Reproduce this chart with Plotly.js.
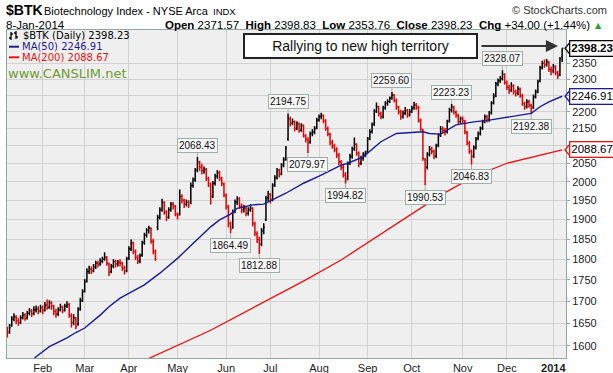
<!DOCTYPE html>
<html><head><meta charset="utf-8">
<script src="https://cdn.plot.ly/plotly-3.0.1.min.js"></script>
<style>html,body{margin:0;padding:0;background:#fff;}#chart{width:613px;height:373px;}</style>
</head><body><div id="chart"></div>
<script>
// ---------- calendar ----------
const calStart = '2013-01-02';
const calEnd = '2014-01-08';
const holidays = ['2013-01-21','2013-02-18','2013-03-29','2013-05-27','2013-07-04','2013-09-02','2013-11-28','2013-12-25','2014-01-01'];
const firstBarDate = '2013-01-09';
const monthStarts = ['2013-02','2013-03','2013-04','2013-05','2013-06','2013-07','2013-08','2013-09','2013-10','2013-11','2013-12','2014-01'];
const monthLabels = ['Feb','Mar','Apr','May','Jun','Jul','Aug','Sep','Oct','Nov','Dec','<b>2014</b>'];
const yTicks = [1600,1650,1700,1750,1800,1850,1900,1950,2000,2050,2100,2150,2200,2250,2300,2350];
const yTickText = ['1600','1650','1700','1750','1800','1850','1900','1950','2000','2050','','2150','2200','','2300','2350'];

// ---------- daily OHLC ($BTK), 9-Jan-2013 .. 8-Jan-2014 ----------
const open = [
1636,1630,1645,1660,1664,1656,1652,1662,1668,1662,
1672,1678,1672,1680,1682,1678,1684,1680,1692,1686,
1696,1688,1676,1670,1680,1686,1680,1688,1692,1666,
1652,1660,1648,1682,1702,1724,1748,1770,1776,1772,
1782,1790,1788,1795,1800,1804,1788,1770,1784,1794,
1788,1792,1790,1778,1772,1802,1826,1840,1818,1804,
1796,1810,1842,1860,1872,1876,1844,1818,1880,1906,
1926,1944,1918,1906,1926,1940,1934,1912,1914,1960,
1950,1940,1946,1945,1990,2006,2032,2052,2040,2030,
2034,2008,1990,1962,1996,2016,2024,2008,1994,1962,
1932,1888,1880,1922,1946,1954,1934,1924,1930,1916,
1926,1928,1888,1862,1848,1838,1872,1900,1956,1966,
1952,1992,2012,2032,2022,2046,2064,2120,2178,2166,
2170,2152,2164,2146,2158,2128,2118,2112,2136,2140,
2152,2176,2186,2188,2172,2150,2134,2110,2100,2090,
2074,2054,2040,2018,2010,2052,2070,2092,2104,2078,
2052,2066,2076,2084,2122,2142,2164,2202,2214,2194,
2186,2212,2226,2232,2242,2250,2234,2214,2200,2186,
2196,2204,2192,2200,2212,2220,2212,2172,2146,2060,
2040,2078,2092,2084,2072,2102,2132,2150,2146,2142,
2172,2206,2214,2198,2188,2170,2180,2172,2138,2108,
2084,2072,2096,2122,2136,2152,2172,2184,2176,2198,
2228,2250,2286,2296,2302,2314,2288,2274,2266,2278,
2260,2256,2268,2248,2224,2216,2230,2218,2214,2246,
2262,2296,2336,2350,2346,2352,2330,2326,2338,2318,
2314,2371.57];
const high = [
1642,1648,1666,1672,1668,1662,1668,1675,1672,1678,
1684,1682,1688,1690,1688,1692,1690,1698,1704,1702,
1700,1692,1682,1686,1694,1690,1694,1700,1696,1672,
1670,1664,1686,1708,1728,1752,1778,1784,1782,1788,
1796,1796,1802,1806,1817,1808,1792,1788,1800,1798,
1798,1800,1794,1784,1806,1832,1849,1844,1824,1810,
1814,1846,1866,1878,1884,1880,1850,1824,1912,1932,
1954,1948,1924,1932,1946,1946,1938,1918,1979,1966,
1954,1952,1950,1998,2012,2038,2068.43,2058,2050,2042,
2038,2014,1998,2002,2022,2032,2030,2014,1998,1968,
1938,1895,1926,1952,1961,1958,1942,1938,1936,1932,
1940,1932,1894,1870,1856,1878,1890,1962,1976,1970,
1996,2018,2038,2036,2052,2068,2100,2194.75,2186,2180,
2174,2172,2168,2166,2162,2134,2125,2142,2148,2158,
2182,2192,2197,2192,2178,2156,2138,2118,2106,2096,
2080,2060,2046,2026,2056,2078,2098,2124,2108,2084,
2072,2082,2086,2126,2148,2168,2208,2228,2218,2200,
2218,2232,2238,2246,2259.60,2254,2240,2218,2206,2204,
2214,2208,2208,2218,2230,2226,2218,2180,2150,2066,
2082,2100,2098,2090,2106,2136,2158,2156,2152,2176,
2212,2223.23,2218,2204,2194,2186,2186,2176,2144,2114,
2090,2102,2126,2142,2156,2176,2192,2190,2202,2232,
2256,2292,2302,2310,2328.07,2318,2296,2282,2290,2284,
2268,2278,2274,2254,2230,2238,2236,2224,2252,2268,
2298,2342,2358,2362,2364,2358,2340,2348,2344,2326,
2370,2398.83];
const low = [
1618,1626,1642,1654,1648,1644,1648,1658,1655,1658,
1668,1664,1668,1674,1670,1674,1670,1676,1680,1682,
1680,1668,1662,1666,1676,1672,1676,1684,1662,1640,
1646,1636,1644,1678,1698,1720,1744,1764,1764,1768,
1776,1780,1784,1790,1796,1784,1759,1766,1778,1780,
1782,1782,1772,1763,1768,1798,1820,1812,1798,1788,
1790,1806,1836,1854,1864,1838,1812,1796,1872,1900,
1920,1912,1896,1902,1920,1926,1908,1900,1910,1942,
1930,1934,1930,1940,1984,2000,2026,2030,2020,2022,
2002,1986,1939,1956,1990,2008,2002,1988,1958,1926,
1880,1864.49,1876,1916,1938,1928,1916,1918,1908,1910,
1920,1882,1858,1840,1812.88,1832,1862,1896,1948,1942,
1948,1986,2006,2012,2018,2040,2058,2115,2156,2160,
2142,2146,2138,2140,2124,2110,2079.97,2106,2128,2134,
2148,2170,2178,2166,2144,2128,2102,2092,2082,2066,
2046,2032,2012,1994.82,2004,2046,2064,2086,2072,2040,
2046,2058,2068,2080,2116,2136,2158,2196,2186,2178,
2180,2206,2218,2226,2236,2228,2206,2192,2176,2180,
2190,2182,2186,2196,2206,2206,2168,2144,2058,1990.53,
2034,2070,2076,2062,2066,2096,2126,2136,2130,2136,
2168,2198,2192,2182,2164,2164,2166,2134,2102,2078,
2046.83,2066,2090,2116,2130,2146,2166,2168,2170,2192,
2222,2244,2278,2288,2296,2282,2266,2254,2260,2252,
2246,2250,2242,2218,2206,2210,2212,2192.38,2208,2240,
2256,2290,2330,2336,2340,2322,2312,2318,2312,2300,
2310,2353.76];
const close = [
1628,1640,1660,1665,1655,1650,1662,1668,1660,1672,
1678,1670,1680,1682,1676,1684,1678,1690,1685,1696,
1688,1676,1670,1680,1686,1678,1688,1692,1668,1650,
1662,1642,1680,1700,1722,1745,1770,1776,1772,1780,
1790,1788,1795,1800,1805,1790,1768,1782,1795,1788,
1792,1790,1780,1770,1800,1825,1840,1820,1805,1795,
1808,1840,1860,1872,1878,1845,1820,1800,1905,1925,
1945,1920,1905,1925,1940,1935,1915,1910,1960,1950,
1940,1945,1938,1990,2005,2030,2055,2040,2030,2035,
2010,1995,1960,1995,2015,2025,2010,1995,1965,1935,
1890,1875,1920,1945,1955,1935,1925,1930,1915,1925,
1930,1890,1865,1850,1835,1870,1880,1955,1965,1950,
1990,2010,2030,2020,2045,2060,2095,2180,2165,2170,
2150,2165,2145,2160,2130,2120,2110,2135,2140,2150,
2175,2185,2190,2175,2150,2135,2110,2100,2090,2075,
2055,2040,2020,2005,2050,2070,2090,2105,2080,2050,
2065,2075,2080,2120,2140,2160,2200,2215,2195,2185,
2210,2225,2230,2240,2250,2235,2215,2200,2185,2195,
2205,2190,2200,2210,2220,2215,2175,2150,2065,2030,
2075,2090,2085,2070,2100,2130,2150,2145,2140,2170,
2205,2215,2200,2190,2170,2180,2175,2140,2110,2085,
2070,2095,2120,2135,2150,2170,2185,2175,2195,2225,
2245,2285,2295,2300,2315,2290,2275,2265,2280,2262,
2255,2270,2250,2225,2215,2230,2220,2210,2245,2260,
2290,2335,2350,2345,2355,2330,2325,2340,2320,2310,
2364.23,2398.23];

// ---------- moving averages (trading-day number, value) ----------
const ma50Day = [16,18,24,32,36,40,47,51,56,63,67,74,82,89,97,101,106,109,116,121,124,131,139,147,156,159,166,174,181,189,193,196,201,208,216,223,231,238,242,246,250,256];
const ma50Val = [1567,1576,1598,1617,1629,1639,1668,1687,1707,1726,1738,1766,1802,1839,1881,1899,1914,1929,1938,1940,1949,1969,1996,2018,2046,2051,2069,2112,2136,2138,2141,2136,2134,2161,2170,2175,2183,2190,2195,2215,2230,2246.91];
const ma200Day = [66,97,140,156,201,216,231,246,256];
const ma200Val = [1566,1634,1750,1798,1964,2014,2051,2074,2088.67];

// ---------- labelled turning points ----------
const calloutDay  = [91,106,119,132,141,158,179,194,206,215,229,242];
const calloutKind = ['H','L','L','H','L','L','H','L','H','L','H','L'];

// ---------- build ----------
function tradingDays(){
  const out=[]; const d=new Date(calStart+'T00:00:00Z'); const end=new Date(calEnd+'T00:00:00Z');
  while(d<=end){const w=d.getUTCDay(); const s=d.toISOString().slice(0,10);
    if(w!==0&&w!==6&&holidays.indexOf(s)<0) out.push(s); d.setUTCDate(d.getUTCDate()+1);}
  return out;
}
const days = tradingDays();
const first = days.indexOf(firstBarDate);
const xs = close.map((_,k)=>first+k);
const tickPos = monthStarts.map(m=>days.findIndex(d=>d.startsWith(m)));

const up={x:[],o:[],h:[],l:[],c:[]}, dn={x:[],o:[],h:[],l:[],c:[]};
close.forEach((c,k)=>{const prev=k>0?close[k-1]:open[k]; const g=c>=prev?up:dn;
  g.x.push(xs[k]); g.o.push(open[k]); g.h.push(high[k]); g.l.push(low[k]); g.c.push(c);});

function ohlcTrace(g,col){return {type:'ohlc',x:g.x,open:g.o,high:g.h,low:g.l,close:g.c,
  increasing:{line:{color:col,width:1.5}},decreasing:{line:{color:col,width:1.5}},
  tickwidth:0.5,hoverinfo:'skip',showlegend:false};}

const navy='#1b1b96', red='#f01010';
const traces=[
  {type:'scatter',mode:'lines',x:ma200Day,y:ma200Val,line:{color:red,width:1.3},hoverinfo:'skip',showlegend:false},
  {type:'scatter',mode:'lines',x:ma50Day,y:ma50Val,line:{color:navy,width:1.4},hoverinfo:'skip',showlegend:false},
  ohlcTrace(up,'#000000'),
  ohlcTrace(dn,'#e80000')
];

// pixel helpers for page furniture (plot area 7..566 x 30..358)
const L0=7,R0=566,T0=30,B0=358;
const YLO=3.19685, YHI=3.390753;
const PX=p=>(p-L0)/(R0-L0), PY=p=>(B0-p)/(B0-T0);
const valPix=v=>B0-(Math.log10(v)-YLO)/(YHI-YLO)*(B0-T0);
const SANS='Liberation Sans, Arial, sans-serif', DJ='DejaVu Sans, Verdana, sans-serif';
const last=close.length-1;
const fmt=v=>v.toFixed(2);

const ann=[];
function txt(x,y,t,o){ann.push(Object.assign({xref:'paper',yref:'paper',x:PX(x),y:PY(y),text:t,showarrow:false,xanchor:'left',yanchor:'middle',font:{family:SANS,size:12,color:'#000'}},o||{}));}
// header
txt(4,10,'<b>$BTK</b>',{font:{family:SANS,size:14,color:'#000'}});
txt(42,11,'Biotechnology Index - NYSE Arca',{font:{family:SANS,size:11,color:'#000'}});
txt(211,11,'INDX',{font:{family:SANS,size:9.5,color:'#000'}});
txt(609,10,'© StockCharts.com',{xanchor:'right',font:{family:SANS,size:11,color:'#333'}});
txt(4,25,'8-Jan-2014',{font:{family:SANS,size:11.5,color:'#000'}});
const chg=close[last]-close[last-1];
txt(592,25,'<b>Open</b> '+fmt(open[last])+'  <b>High</b> '+fmt(high[last])+'  <b>Low</b> '+fmt(low[last])+'  <b>Close</b> '+fmt(close[last])+'  <b>Chg</b> +'+fmt(chg)+' (+'+(chg/close[last-1]*100).toFixed(2)+'%)',{xanchor:'right',font:{family:SANS,size:11.5,color:'#000'}});
txt(598,25,'▲',{xanchor:'center',font:{family:DJ,size:8,color:'#2aa02a'}});
// legend
txt(21,35.5,'$BTK (Daily) '+fmt(close[last]),{font:{family:DJ,size:10,color:'#000'}});
txt(20,46.7,'MA(50) '+fmt(ma50Val[ma50Val.length-1]),{font:{family:DJ,size:10,color:navy}});
txt(20,57.3,'MA(200) '+fmt(ma200Val[ma200Val.length-1]),{font:{family:DJ,size:10,color:red}});
txt(6,73.3,'www.CANSLIM.net',{font:{family:DJ,size:13,color:'#6d9b30'}});
// callout box + arrow
ann.push({xref:'paper',yref:'paper',x:PX(360.5),y:PY(46),text:'Rallying to new high territory',showarrow:false,
  xanchor:'center',yanchor:'middle',width:229,height:20,bgcolor:'#ffffff',bordercolor:'#222',borderwidth:2,borderpad:1,
  font:{family:SANS,size:14,color:'#111'}});
ann.push({xref:'paper',yref:'paper',x:PX(558),y:PY(46),ax:-78,ay:0,text:'',showarrow:true,arrowhead:2,arrowsize:1.1,arrowwidth:2.2,arrowcolor:'#333'});
// price callouts
calloutDay.forEach((d,j)=>{const k=d-first; const isH=calloutKind[j]==='H'; const v=isH?high[k]:low[k];
  ann.push({x:d,y:Math.log10(v),xref:'x',yref:'y',text:fmt(v),showarrow:true,arrowhead:0,arrowwidth:1,arrowcolor:'#9fb0a8',
    ax:0,ay:isH?-12:12,standoff:0,bgcolor:'#f7f7f7',bordercolor:'#9fb0a8',borderwidth:1,borderpad:1,
    font:{family:SANS,size:10,color:'#111'}});});
// right value tags with pointed left ends
const shapes=[];
function tag(v,col,bold){
  ann.push({xref:'paper',yref:'y',x:1,xshift:3,y:Math.log10(v),xanchor:'left',yanchor:'middle',
    text:bold?'<b>'+fmt(v)+'</b>':fmt(v),showarrow:false,bgcolor:'#fff',bordercolor:col,borderwidth:1.3,borderpad:1,
    font:{family:SANS,size:11.5,color:'#000'}});
  const py=valPix(v);
  shapes.push({type:'path',xref:'paper',yref:'paper',layer:'above',
    path:'M '+PX(570)+' '+PY(py-6)+' L '+PX(565)+' '+PY(py)+' L '+PX(570)+' '+PY(py+6),
    line:{color:col,width:1.3}});
}
tag(close[last],'#000',true); tag(ma50Val[ma50Val.length-1],navy,false); tag(ma200Val[ma200Val.length-1],red,false);

shapes.push(
  // resistance line
  {type:'line',xref:'x',yref:'y',x0:202,x1:258,y0:Math.log10(2326),y1:Math.log10(2326),line:{color:'#444',width:2.5}},
  // legend glyphs
  {type:'line',xref:'paper',yref:'paper',x0:PX(9),x1:PX(19),y0:PY(46.7),y1:PY(46.7),line:{color:navy,width:2}},
  {type:'line',xref:'paper',yref:'paper',x0:PX(9),x1:PX(19),y0:PY(57.3),y1:PY(57.3),line:{color:red,width:2}},
  {type:'line',xref:'paper',yref:'paper',x0:PX(11),x1:PX(11),y0:PY(32),y1:PY(40),line:{color:'#000',width:1.3}},
  {type:'line',xref:'paper',yref:'paper',x0:PX(9),x1:PX(11),y0:PY(38),y1:PY(38),line:{color:'#000',width:1.3}},
  {type:'line',xref:'paper',yref:'paper',x0:PX(11),x1:PX(13),y0:PY(34),y1:PY(34),line:{color:'#000',width:1.3}},
  {type:'line',xref:'paper',yref:'paper',x0:PX(16),x1:PX(16),y0:PY(31),y1:PY(39),line:{color:'#000',width:1.3}},
  {type:'line',xref:'paper',yref:'paper',x0:PX(14),x1:PX(16),y0:PY(33),y1:PY(33),line:{color:'#000',width:1.3}},
  {type:'line',xref:'paper',yref:'paper',x0:PX(16),x1:PX(18),y0:PY(37),y1:PY(37),line:{color:'#000',width:1.3}}
);

const layout={width:613,height:373,margin:{l:L0,r:613-R0,t:T0,b:373-B0},
  paper_bgcolor:'#ffffff',plot_bgcolor:'#efefef',showlegend:false,dragmode:false,
  xaxis:{range:[4.85,257.74],tickvals:tickPos,ticktext:monthLabels,showgrid:true,gridcolor:'#d2d2d2',gridwidth:1,
    zeroline:false,showline:true,linecolor:'#8fa8a0',linewidth:1,mirror:true,ticks:'',
    tickfont:{family:SANS,size:11,color:'#222'},rangeslider:{visible:false},fixedrange:true},
  yaxis:{type:'log',side:'right',range:[YLO,YHI],tickvals:yTicks,ticktext:yTickText,
    showgrid:true,gridcolor:'#d2d2d2',gridwidth:1,zeroline:false,showline:true,linecolor:'#8fa8a0',linewidth:1,mirror:true,
    ticks:'outside',ticklen:3,tickcolor:'#8fa8a0',tickfont:{family:SANS,size:11,color:'#222'},fixedrange:true},
  annotations:ann,shapes:shapes};

Plotly.newPlot('chart',traces,layout,{staticPlot:true,displayModeBar:false});
</script></body></html>
